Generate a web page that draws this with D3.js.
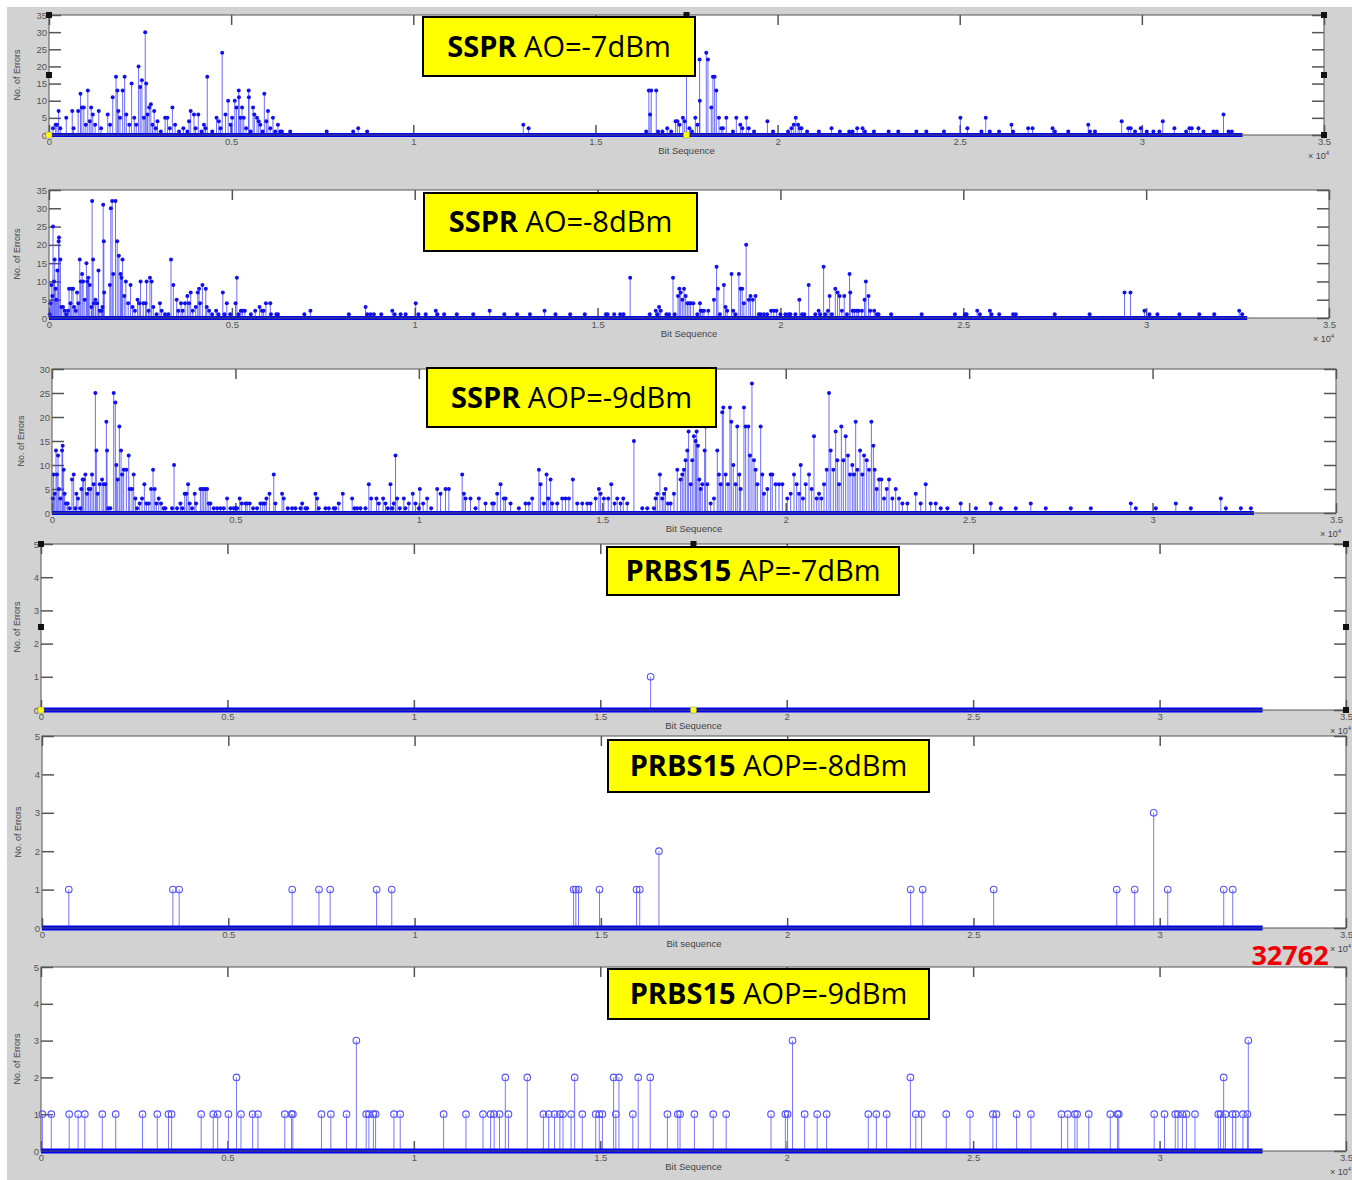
<!DOCTYPE html>
<html>
<head>
<meta charset="utf-8">
<script src="https://cdn.jsdelivr.net/npm/d3@7"></script>
<style>
  body { margin: 0; background: #fff; }
  svg { display: block; }
</style>
</head>
<body>
<svg id="chart" width="1352" height="1180"></svg>
<script>
// ---- Data: [bit index, number of errors] ----
const bitCount = 32762;
const xTickValues = [0, 5000, 10000, 15000, 20000, 25000, 30000, 35000];
const xTickLabels = ["0", "0.5", "1", "1.5", "2", "2.5", "3", "3.5"];
const yTicks35 = [0, 5, 10, 15, 20, 25, 30, 35];
const yTicks30 = [0, 5, 10, 15, 20, 25, 30];
const yTicks5 = [0, 1, 2, 3, 4, 5];

const ssprAO7 = [
  [109,2],[182,3],[219,3],[264,7],[310,2],[474,5],[638,7],[674,2],[801,7],[865,12],[902,8],[956,8],
  [1011,3],[1066,13],[1120,4],[1157,8],[1202,6],[1266,3],[1366,7],[1430,2],[1612,6],[1676,3],[1749,11],
  [1840,17],[1876,13],[1903,7],[1949,5],[2022,13],[2076,17],[2122,6],[2204,3],[2268,15],[2340,5],[2395,3],
  [2459,20],[2504,14],[2550,16],[2605,5],[2641,30],[2668,15],[2705,6],[2750,8],[2796,9],[2841,3],[2887,7],
  [2932,2],[2978,4],[3069,1],[3187,5],[3251,5],[3315,2],[3388,8],[3461,3],[3570,1],[3688,2],[3798,1],
  [3843,4],[3889,7],[3980,6],[4025,2],[4098,6],[4189,1],[4253,3],[4298,2],[4344,17],[4481,1],[4599,5],
  [4663,4],[4708,2],[4754,24],[4845,6],[4918,10],[4982,3],[5027,5],[5100,10],[5145,8],[5209,13],[5215,11],
  [5255,5],[5300,8],[5346,5],[5410,2],[5482,13],[5488,11],[5537,1],[5601,8],[5637,6],[5710,5],[5756,4],
  [5801,3],[5865,1],[5911,12],[5965,4],[6011,7],[6074,2],[6147,5],[6211,1],[6284,3],[6348,1],[6393,1],
  [6621,1],[7623,1],[8351,1],[8488,2],[8734,1],
  [13020,3],[13166,2],[16394,1],[16466,13],[16500,6],[16532,13],[16669,13],[16720,1],[16840,1],[16971,2],
  [17080,1],[17200,4],[17250,4],[17310,3],[17401,5],[17450,4],[17500,22],[17580,2],[17650,1],[17742,5],
  [17800,3],[17860,22],[17865,10],[18043,24],[18089,22],[18181,8],[18226,17],[18272,17],[18318,13],
  [18391,5],[18456,2],[18501,2],[18593,5],[18776,1],[18868,5],[18978,3],[19033,2],[19143,5],[19208,2],
  [19354,1],[19721,4],[19875,1],[20288,1],[20380,2],[20444,3],[20499,5],[20563,3],[20610,2],[20656,2],
  [20810,1],[21133,1],[21481,2],[21710,1],[21966,1],[22059,1],[22186,2],[22333,2],[22398,1],[22645,1],
  [23049,1],[23313,1],[23809,1],[24084,1],[24568,1],[25018,5],[25211,2],[25596,1],[25715,5],[25825,1],
  [26081,1],[26421,3],[26466,1],[26879,2],[26999,2],[27549,2],[27613,1],[27979,1],[28529,3],[28575,1],
  [28713,1],[29446,4],[29629,2],[29694,2],[29813,1],[29969,2],[30134,1],[30316,1],[30481,1],[30574,4],
  [30893,2],[31215,1],[31306,2],[31371,2],[31554,2],[31691,1],[31966,1],[32058,1],[32241,6],[32379,1],[32470,1]
];

const ssprAO8 = [
  [18,1],[37,4],[64,9],[91,6],[110,25],[137,10],[155,16],[183,8],[201,5],[229,13],[265,21],[274,22],
  [311,16],[338,3],[384,3],[430,2],[475,1],[521,2],[548,8],[585,4],[622,8],[658,8],[686,3],[731,2],
  [768,7],[804,4],[841,16],[868,10],[905,12],[932,10],[978,5],[1024,15],[1051,10],[1079,11],[1115,9],
  [1161,3],[1179,32],[1206,16],[1225,4],[1270,5],[1316,4],[1353,13],[1389,2],[1435,2],[1462,3],[1481,31],
  [1499,21],[1508,7],[1663,9],[1691,30],[1727,32],[1755,12],[1819,32],[1865,21],[1910,17],[1956,12],
  [1983,11],[2011,16],[2057,6],[2102,10],[2166,4],[2230,9],[2285,3],[2349,2],[2422,5],[2468,4],[2504,10],
  [2577,4],[2641,4],[2669,10],[2724,2],[2760,11],[2806,10],[2852,3],[2943,1],[3034,4],[3080,2],[3172,1],
  [3263,1],[3336,16],[3400,9],[3491,5],[3537,2],[3610,4],[3656,2],[3720,4],[3784,6],[3830,4],[3875,7],
  [3930,2],[4012,3],[4067,7],[4104,8],[4131,4],[4195,9],[4287,8],[4314,3],[4378,2],[4460,1],[4570,2],
  [4634,1],[4753,7],[4799,1],[4862,4],[4954,1],[5100,4],[5137,11],[5182,1],[5246,2],[5292,2],[5356,2],
  [5521,1],[5639,2],[5758,3],[5822,2],[5868,2],[5932,4],[6051,4],[6069,1],[6215,1],[6261,1],[6983,1],
  [7148,2],[8199,1],[8656,3],[8701,1],[8793,1],[8884,1],[9085,1],[9387,2],[9451,1],[9615,1],[9752,1],
  [10027,4],[10100,1],[10301,1],[10575,2],[10621,1],[10804,1],
  [11150,1],[11600,1],[12050,2],[12450,1],[12800,1],[13150,1],[13550,2],[13850,1],[14250,1],[14650,1],
  [15227,1],[15273,1],[15455,1],[15618,1],[15709,1],[15891,11],[16427,1],[16591,2],[16636,1],[16682,3],
  [16727,2],[16882,1],[16954,1],[17063,11],[17109,1],[17200,6],[17236,8],[17273,7],[17318,5],[17364,8],
  [17409,6],[17455,4],[17500,4],[17545,4],[17618,4],[17727,1],[17800,4],[17818,2],[17863,2],[17909,2],
  [18027,2],[18182,5],[18254,14],[18291,8],[18345,1],[18454,9],[18500,3],[18545,2],[18663,12],[18709,2],
  [18772,1],[18863,12],[18909,8],[18954,8],[19000,4],[19063,20],[19136,5],[19182,6],[19245,5],[19318,6],
  [19409,1],[19454,1],[19545,1],[19636,1],[19745,2],[19818,2],[19891,2],[20000,1],[20136,1],[20227,1],
  [20272,1],[20409,1],[20518,5],[20590,1],[20654,1],[20772,9],[20954,1],[21045,2],[21090,1],[21181,14],
  [21227,1],[21300,2],[21345,6],[21409,1],[21500,8],[21563,7],[21618,6],[21681,2],[21745,6],[21818,1],
  [21890,12],[21909,7],[21972,2],[22027,2],[22090,2],[22136,2],[22227,2],[22300,5],[22336,10],[22409,6],
  [22454,2],[22563,2],[22636,1],[22681,1],[23027,1],[23863,1],[24772,1],[25045,1],[25090,1],[25381,2],
  [25454,1],[25727,2],[25772,1],[25982,1],[26363,1],[26436,1],[27500,1],[28454,1],[29408,7],[29572,7],
  [29954,2],[30090,1],[30308,1],[30908,1],[31453,1],[31862,1],[32544,2],[32626,1]
];

const ssprAOP9 = [
  [18,3],[45,8],[73,4],[109,13],[136,8],[164,12],[191,5],[227,3],[273,13],[291,14],[318,9],[345,4],
  [382,2],[427,2],[482,1],[545,7],[591,8],[636,1],[664,4],[709,3],[773,1],[800,5],[836,7],[864,7],
  [909,8],[954,4],[1000,5],[1045,5],[1091,8],[1136,6],[1182,25],[1209,13],[1245,4],[1300,6],[1364,7],
  [1409,6],[1454,6],[1482,19],[1500,13],[1536,1],[1591,1],[1682,25],[1727,23],[1754,10],[1791,7],
  [1836,18],[1882,13],[1909,8],[1954,9],[2027,9],[2091,12],[2118,5],[2182,5],[2227,8],[2273,3],[2318,1],
  [2391,2],[2454,3],[2518,6],[2573,2],[2636,2],[2700,5],[2754,9],[2800,5],[2845,2],[2909,3],[2972,2],
  [3045,1],[3091,1],[3272,1],[3327,10],[3409,1],[3500,2],[3554,1],[3618,4],[3663,4],[3709,6],[3754,2],
  [3818,1],[3891,4],[3927,2],[4045,5],[4091,5],[4136,5],[4181,5],[4227,5],[4272,2],[4318,2],[4409,1],
  [4500,1],[4590,1],[4681,1],[4772,3],[4863,1],[4954,1],[5000,1],[5045,1],[5118,3],[5172,2],[5272,2],
  [5318,2],[5390,2],[5481,1],[5590,1],[5681,2],[5745,2],[5799,2],[5845,3],[5927,4],[6045,8],[6090,2],
  [6272,4],[6318,3],[6427,1],[6545,1],[6636,1],[6772,1],[6818,2],[6908,1],[6954,1],[7181,4],[7227,3],
  [7272,1],[7454,1],[7545,1],[7681,1],[7727,1],[7817,2],[7926,4],[8181,3],[8245,1],[8317,1],[8408,1],
  [8545,1],[8636,6],[8699,3],[8845,3],[8908,2],[9026,3],[9090,2],[9154,1],[9226,6],[9272,1],[9317,2],
  [9363,12],[9408,3],[9481,1],[9590,3],[9635,1],[9726,2],[9835,4],[9908,2],[9999,1],[10026,5],[10117,2],
  [10226,3],[10335,1],[10499,5],[10590,4],[10726,5],[10817,5],
  [11181,8],[11227,4],[11272,3],[11408,3],[11545,1],[11636,3],[11817,2],[11999,2],[12045,2],[12136,4],
  [12227,6],[12317,3],[12363,3],[12499,2],[12726,1],[12908,2],[12999,2],[13090,3],[13272,9],[13317,6],
  [13408,2],[13481,8],[13526,3],[13590,7],[13635,2],[13772,2],[13908,3],[13999,3],[14090,3],[14199,7],
  [14317,2],[14454,2],[14590,2],[14681,2],[14817,3],[14908,5],[14954,4],[15044,3],[15163,3],[15244,6],
  [15335,2],[15408,3],[15499,2],[15572,3],[15680,2],[15862,15],[16090,1],[16226,1],[16408,1],[16453,3],
  [16499,4],[16571,8],[16635,3],[16681,4],[16726,5],[16790,2],[16862,2],[16953,4],[17044,9],[17135,7],
  [17181,8],[17226,9],[17271,11],[17317,13],[17353,17],[17408,6],[17453,11],[17499,16],[17544,15],
  [17571,17],[17608,14],[17644,7],[17681,5],[17726,6],[17790,13],[17817,18],[17862,6],[17953,2],[18044,3],
  [18135,13],[18180,8],[18226,6],[18271,21],[18299,22],[18362,8],[18426,6],[18480,22],[18517,19],
  [18571,10],[18635,6],[18680,18],[18735,8],[18771,5],[18862,22],[18908,18],[18980,18],[19026,12],
  [19080,27],[19135,11],[19180,9],[19226,6],[19317,18],[19362,8],[19408,4],[19499,5],[19589,8],[19635,8],
  [19726,6],[19817,6],[19908,6],[20044,3],[20135,4],[20226,8],[20298,6],[20362,4],[20408,10],[20471,3],
  [20544,6],[20635,8],[20707,5],[20771,16],[20844,3],[20907,4],[20971,3],[21044,6],[21117,9],[21180,25],
  [21226,13],[21298,9],[21362,17],[21407,11],[21453,6],[21516,18],[21571,11],[21635,16],[21698,12],
  [21753,8],[21816,10],[21862,8],[21907,19],[21953,9],[22026,13],[22089,8],[22135,12],[22207,11],
  [22271,9],[22335,19],[22389,14],[22425,9],[22480,5],[22544,7],[22607,7],[22680,3],[22753,5],[22816,7],
  [22907,3],[22998,5],[23089,3],[23180,2],[23316,2],[23544,4],[23680,2],[23816,6],[23952,2],[24089,2],
  [24225,1],[24407,1],[24771,2],[25186,1],[25590,2],[25862,1],[26271,1],[26680,2],[27089,1],[27771,1],
  [28316,1],[29407,2],[29543,1],[30089,1],[30634,2],[31043,1],[31861,3],[31998,1],[32407,1],[32680,1]
];

const prbsAP7 = [[16350,1]];

const prbsAOP8 = [
  [719,1],[3513,1],[3681,1],[6715,1],[7434,1],[7734,1],[8981,1],[9388,1],[14269,1],[14329,1],[14400,1],
  [14964,1],[15959,1],[16043,1],[16559,2],[23315,1],[23638,1],[25544,1],[28846,1],[29329,1],[29839,3],
  [30215,1],[31718,1],[31960,1]
];

const prbsAOP9 = [
  [36,1],[276,1],[756,1],[996,1],[1176,1],[1644,1],[2004,1],[2723,1],[3119,1],[3419,1],[3503,1],
  [4295,1],[4619,1],[4739,1],[5027,1],[5243,2],[5363,1],[5675,1],[5819,1],[6539,1],[6719,1],[6755,1],
  [7522,1],[7774,1],[8194,1],[8458,3],[8722,1],[8794,1],[8914,1],[8974,1],[9466,1],[9634,1],[10798,1],
  [11398,1],[11854,1],[12058,1],[12154,1],[12298,1],[12453,2],[12537,1],[13041,2],[13473,1],[13617,1],
  [13773,1],[13917,1],[14001,1],[14217,1],[14313,2],[14517,1],[14877,1],[14973,1],[15057,1],[15357,2],
  [15417,1],[15501,2],[15873,1],[16017,2],[16340,2],[16800,1],[17079,1],[17139,1],[17524,1],[18029,1],
  [18377,1],[19579,1],[19964,1],[20024,1],[20156,3],[20481,1],[20817,1],[21070,1],[22188,1],[22404,1],
  [22680,1],[23317,2],[23462,1],[23618,1],[24279,1],[24916,1],[25529,1],[25625,1],[26166,1],[26550,1],
  [27368,1],[27536,1],[27728,1],[27788,1],[28101,1],[28678,1],[28870,1],[28906,1],[29856,1],[30132,1],
  [30421,1],[30493,1],[30613,1],[30721,1],[30950,1],[31575,1],[31635,1],[31719,2],[31767,1],[31959,1],
  [32043,1],[32236,1],[32356,1],[32380,3]
];

const titleBold = ["SSPR", "SSPR", "SSPR", "PRBS15", "PRBS15", "PRBS15"];
const titleRest = [" AO=-7dBm", " AO=-8dBm", " AOP=-9dBm", " AP=-7dBm", " AOP=-8dBm", " AOP=-9dBm"];
const xAxisTitles = ["Bit Sequence", "Bit Sequence", "Bit Sequence", "Bit Sequence", "Bit sequence", "Bit Sequence"];
const yAxisTitle = "No. of Errors";
const lengthNote = "32762";

// ---- Layout of the six stacked axes ----
const layout = [
  { l: 49, r: 1324, t: 15,  b: 135,  yMax: 35, yTicks: yTicks35, data: ssprAO7,   kind: "sspr",
    box: [423, 17, 272, 59], yLabelX: 20, handles: true },
  { l: 49, r: 1329, t: 190, b: 318,  yMax: 35, yTicks: yTicks35, data: ssprAO8,   kind: "sspr",
    box: [424, 193, 273, 58], yLabelX: 20 },
  { l: 52, r: 1336, t: 369, b: 513,  yMax: 30, yTicks: yTicks30, data: ssprAOP9,  kind: "sspr",
    box: [427, 368, 289, 59], yLabelX: 24 },
  { l: 41, r: 1346, t: 544, b: 710,  yMax: 5,  yTicks: yTicks5,  data: prbsAP7,   kind: "prbs",
    box: [607, 547, 292, 48], yLabelX: 20, handles: true },
  { l: 42, r: 1346, t: 736, b: 928,  yMax: 5,  yTicks: yTicks5,  data: prbsAOP8,  kind: "prbs",
    box: [608, 740, 321, 52], yLabelX: 21 },
  { l: 41, r: 1346, t: 967, b: 1151, yMax: 5,  yTicks: yTicks5,  data: prbsAOP9,  kind: "prbs",
    box: [608, 969, 321, 50], yLabelX: 20 }
];

const svg = d3.select("#chart");
const labelFont = "'Liberation Sans', Arial, sans-serif";
const boxFont = "'Open Sans', 'Noto Sans', sans-serif";

// grey figure background
svg.append("rect").attr("x", 7).attr("y", 7).attr("width", 1345).attr("height", 1173).attr("fill", "#d2d2d2");

layout.forEach((p, i) => {
  const g = svg.append("g");
  const x = d3.scaleLinear().domain([0, 35000]).range([p.l, p.r]);
  const y = d3.scaleLinear().domain([0, p.yMax]).range([p.b, p.t]);

  g.append("rect").attr("x", p.l).attr("y", p.t).attr("width", p.r - p.l).attr("height", p.b - p.t)
    .attr("fill", "#fff");

  // axes with inward ticks on all four sides
  const fmtX = (d, k) => xTickLabels[k];
  const bottom = g.append("g").attr("transform", `translate(0,${p.b})`)
    .call(d3.axisBottom(x).tickValues(xTickValues).tickFormat(fmtX).tickSizeInner(-10).tickSizeOuter(0).tickPadding(3));
  const top = g.append("g").attr("transform", `translate(0,${p.t})`)
    .call(d3.axisTop(x).tickValues(xTickValues).tickFormat("").tickSizeInner(-10).tickSizeOuter(0));
  const left = g.append("g").attr("transform", `translate(${p.l},0)`)
    .call(d3.axisLeft(y).tickValues(p.yTicks).tickFormat(d3.format("d")).tickSizeInner(-12).tickSizeOuter(0).tickPadding(2));
  const right = g.append("g").attr("transform", `translate(${p.r},0)`)
    .call(d3.axisRight(y).tickValues(p.yTicks).tickFormat("").tickSizeInner(-12).tickSizeOuter(0));
  [bottom, top, left, right].forEach(a => {
    a.select(".domain").remove();
    a.selectAll(".tick line").attr("stroke", "#555").attr("stroke-width", 1.5);
    a.selectAll("text").attr("fill", "#555").attr("font-size", 9.5).attr("font-family", labelFont);
  });

  const sspr = p.kind === "sspr";
  const data = p.data.slice().sort((a, b) => a[0] - b[0]);

  // stems
  g.append("g").selectAll("line").data(data).join("line")
    .attr("x1", d => x(d[0])).attr("x2", d => x(d[0]))
    .attr("y1", y(0)).attr("y2", d => y(d[1]))
    .attr("stroke", sspr ? "#3b3bff" : "#7777ff")
    .attr("stroke-opacity", sspr ? 0.75 : 1)
    .attr("stroke-width", 1);

  // zero-valued samples form a thick baseline
  g.append("line").attr("x1", x(0)).attr("x2", x(bitCount)).attr("y1", y(0)).attr("y2", y(0))
    .attr("stroke", "#0000f0").attr("stroke-width", sspr ? 4 : 5);

  // markers
  if (sspr) {
    g.append("g").selectAll("circle").data(data).join("circle")
      .attr("cx", d => x(d[0])).attr("cy", d => y(d[1])).attr("r", 2)
      .attr("fill", "#1010ee");
  } else {
    g.append("g").selectAll("circle").data(data).join("circle")
      .attr("cx", d => x(d[0])).attr("cy", d => y(d[1])).attr("r", 3.3)
      .attr("fill", "none").attr("stroke", "#5555ff").attr("stroke-width", 1.1);
  }

  // axes frame
  g.append("rect").attr("x", p.l).attr("y", p.t).attr("width", p.r - p.l).attr("height", p.b - p.t)
    .attr("fill", "none").attr("stroke", "#555").attr("stroke-width", 1);

  // axis titles
  g.append("text").attr("x", (p.l + p.r) / 2).attr("y", p.b + 19)
    .attr("text-anchor", "middle").attr("font-size", 9.5).attr("font-family", labelFont)
    .attr("fill", "#444").text(xAxisTitles[i]);
  g.append("text")
    .attr("transform", `translate(${p.yLabelX},${(p.t + p.b) / 2}) rotate(-90)`)
    .attr("text-anchor", "middle").attr("font-size", 9).attr("font-family", labelFont)
    .attr("fill", "#444").text(yAxisTitle);
  const ex = g.append("text").attr("x", p.r - 16).attr("y", p.b + 24)
    .attr("font-size", 9).attr("font-family", labelFont).attr("fill", "#444");
  ex.append("tspan").text("\u00d7 10");
  ex.append("tspan").attr("dy", -4).attr("font-size", 6).text("4");

  // selection handles and data-tip markers
  if (p.handles) {
    const hx = [p.l, (p.l + p.r) / 2, p.r];
    const hy = [p.t, (p.t + p.b) / 2, p.b];
    const pts = [[0,0],[1,0],[2,0],[0,1],[2,1],[2,2]];
    g.append("g").selectAll("rect").data(pts).join("rect")
      .attr("x", d => hx[d[0]] - 3).attr("y", d => hy[d[1]] - 3)
      .attr("width", 6).attr("height", 6).attr("fill", "#111");
    g.append("g").selectAll("rect").data([0, 1]).join("rect")
      .attr("x", d => hx[d] - 3).attr("y", p.b - 3).attr("width", 6).attr("height", 6)
      .attr("fill", "#ffff00").attr("stroke", "#888").attr("stroke-width", 0.5);
  }

  // yellow title box
  const [bx, by, bw, bh] = p.box;
  g.append("rect").attr("x", bx).attr("y", by).attr("width", bw).attr("height", bh)
    .attr("fill", "#ffff00").attr("stroke", "#000").attr("stroke-width", 2);
  const t = g.append("text").attr("x", bx + bw / 2).attr("y", by + bh / 2 + 10)
    .attr("text-anchor", "middle").attr("font-size", 29).attr("font-family", boxFont).attr("fill", "#000");
  t.append("tspan").attr("font-weight", 700).text(titleBold[i]);
  t.append("tspan").attr("font-weight", 400).text(titleRest[i]);
});

// sequence length note
svg.append("text").attr("x", 1290).attr("y", 965).attr("text-anchor", "middle")
  .attr("font-size", 27).attr("font-weight", 700).attr("font-family", boxFont)
  .attr("fill", "#ee0000").text(lengthNote);
</script>
</body>
</html>
